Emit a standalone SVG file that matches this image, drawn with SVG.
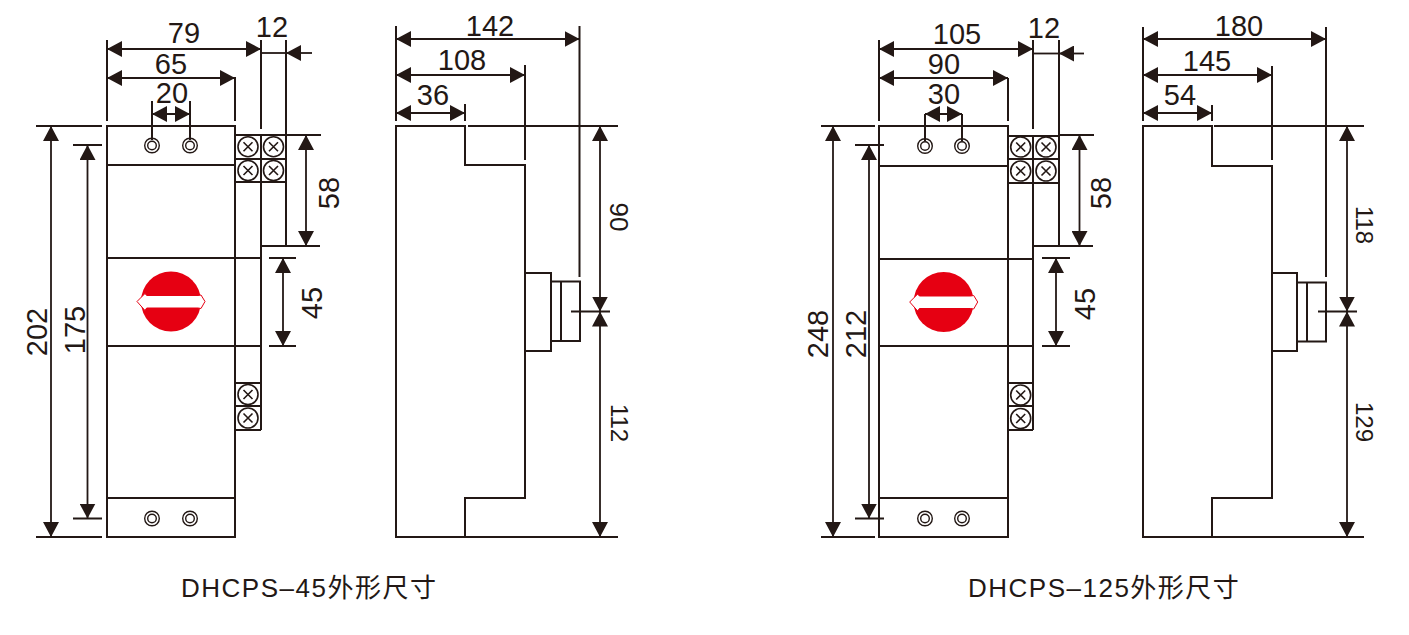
<svg xmlns="http://www.w3.org/2000/svg" xmlns:xlink="http://www.w3.org/1999/xlink" width="1409" height="635" viewBox="0 0 1409 635">
<style>
text{font-family:"Liberation Sans","Noto Sans CJK SC",sans-serif;fill:#231815;font-size:29px;text-anchor:middle}
.s{font-size:24px}
.n{font-size:26px}
.c{font-size:26px;letter-spacing:1.5px;text-anchor:start}
.b{fill:none;stroke:#231815;stroke-width:2}
.d{fill:none;stroke:#231815;stroke-width:1.8}
.a{marker-start:url(#ah);marker-end:url(#ah)}
.e{marker-end:url(#ah)}
.k{fill:#e60012}
.w{fill:#fff;stroke:#e60012;stroke-width:1}
</style>
<defs>
<marker id="ah" viewBox="0 -8 15 16" refX="15" refY="0" markerWidth="15" markerHeight="16" markerUnits="userSpaceOnUse" orient="auto-start-reverse"><path d="M0,-8L15,0L0,8z" fill="#231815"/></marker>
<g id="scr"><circle r="10" fill="#fff" stroke="#231815" stroke-width="1.6"/><path d="M-4.5,-4.5L4.5,4.5M-4.5,4.5L4.5,-4.5" stroke="#231815" stroke-width="1.6"/></g>
<g id="hole"><circle r="7.300" fill="#fff" stroke="#231815" stroke-width="1.400"/><circle r="4.300" fill="#fff" stroke="#231815" stroke-width="1.400"/></g>
<g id="knob"><circle r="30" class="k"/><path class="w" d="M-34,0L-26,-8L-24.300,-6L27,-6L30,-6.500L34,0L30,7L27,6.500L-24.300,6.500L-26,9z"/></g>
</defs>
<rect width="1409" height="635" fill="#fff"/>
<g id="front-45">
<path class="b" d="M107,126H235V537H107ZM107,165H235M107,258H261M107,346H261M107,498H235"/>
<path class="b" d="M235,135H286M235,159H286M235,182H286M261,135V430M286,135V182M235,383H261M235,406H261M235,430H261"/>
<use xlink:href="#hole" href="#hole" x="152" y="145.500"/><use xlink:href="#hole" href="#hole" x="190" y="145.500"/>
<use xlink:href="#hole" href="#hole" x="152" y="518.500"/><use xlink:href="#hole" href="#hole" x="190" y="518.500"/>
<use xlink:href="#scr" href="#scr" x="248" y="146.700"/><use xlink:href="#scr" href="#scr" x="273.500" y="146.700"/>
<use xlink:href="#scr" href="#scr" x="248" y="170.500"/><use xlink:href="#scr" href="#scr" x="273.500" y="170.500"/>
<use xlink:href="#scr" href="#scr" x="248" y="394.500"/><use xlink:href="#scr" href="#scr" x="248" y="418"/>
<use xlink:href="#knob" href="#knob" x="171" y="301.500"/>
</g>
<g id="side-45">
<path class="b" d="M396,126H465V165H525V498H465V537H396ZM525,273H551V351H525M551,281.500H580V341H551M561,281.500V341"/>
</g>
<g id="front-125">
<path class="b" d="M879,126H1008V537H879ZM879,166H1008M879,259H1033M879,346H1033M879,498H1008"/>
<path class="b" d="M1008,136H1059M1008,159H1059M1008,183H1059M1033,136V430M1059,136V183M1008,383H1033M1008,406H1033M1008,430H1033"/>
<use xlink:href="#hole" href="#hole" x="925" y="146"/><use xlink:href="#hole" href="#hole" x="962" y="146"/>
<use xlink:href="#hole" href="#hole" x="925" y="518.500"/><use xlink:href="#hole" href="#hole" x="962" y="518.500"/>
<use xlink:href="#scr" href="#scr" x="1020.700" y="147"/><use xlink:href="#scr" href="#scr" x="1046" y="147"/>
<use xlink:href="#scr" href="#scr" x="1020.700" y="171"/><use xlink:href="#scr" href="#scr" x="1046" y="171"/>
<use xlink:href="#scr" href="#scr" x="1020.700" y="395"/><use xlink:href="#scr" href="#scr" x="1020.700" y="418.500"/>
<use xlink:href="#knob" href="#knob" x="943.700" y="302"/>
</g>
<g id="side-125">
<path class="b" d="M1143,126H1212V166H1272V498H1212V537H1143ZM1272,273H1297V351H1272M1297,282.500H1326V341.500H1297M1307,282.500V341.500"/>
</g>
<g id="connectors">
<path class="b" d="M107,40V121M261,40V129M286,40V246M235,77V121M152,101V140M190,101V140M36,126H102M36,537H102M73,145H102M73,518.500H102M286,135H321M261,246H320M269,258H296M269,346H296"/>
<path class="d a" d="M107,49H261"/><path class="d a" d="M107,78H235"/><path class="d a" d="M152,114H190"/>
<path class="d" d="M261,53H286"/><path class="d e" d="M312,53H286"/>
<path class="d a" d="M51,126V537"/><path class="d a" d="M87.500,145V518.500"/><path class="d a" d="M306,135V246"/><path class="d a" d="M283,258V346"/>
<path class="b" d="M396,26V121M465,104V121M525,65V160M579.500,26V277M468,126H618M396,537H618M571,311.500H610"/>
<path class="d a" d="M396,39H579.500"/><path class="d a" d="M396,75H525"/><path class="d a" d="M396,113H465"/>
<path class="d a" d="M600,126V311.500"/><path class="d a" d="M600,537V311.500"/>
<path class="b" d="M879,40V121M1033,40V129M1059,40V246M1008,78V121M925,114V141M962,114V141M821,126H875M821,537H875M855,145H884M855,518.500H884M1059,135H1094M1033,246H1093M1042,258H1070M1042,346H1070"/>
<path class="d a" d="M879,49H1033"/><path class="d a" d="M879,78H1008"/><path class="d a" d="M925,114H962"/>
<path class="d" d="M1033,53.500H1059"/><path class="d e" d="M1084,53.500H1059"/>
<path class="d a" d="M833,126V537"/><path class="d a" d="M869,145V518.500"/><path class="d a" d="M1079.500,135V246"/><path class="d a" d="M1056,258V346"/>
<path class="b" d="M1143,27V121M1212,105V121M1272,66V160M1326,27V277M1214,126H1364M1143,537H1364M1318,311.500H1357"/>
<path class="d a" d="M1143,39H1326"/><path class="d a" d="M1143,75H1272"/><path class="d a" d="M1143,113H1212"/>
<path class="d a" d="M1347,126V311.500"/><path class="d a" d="M1347,537V311.500"/>
</g>
<g id="labels">
<text x="184" y="43">79</text><text x="171" y="74">65</text><text x="172" y="103">20</text><text x="272" y="37">12</text>
<text transform="translate(339,193) rotate(-90)">58</text><text transform="translate(322,303) rotate(-90)">45</text>
<text transform="translate(47,332) rotate(-90)">202</text><text transform="translate(85,330) rotate(-90)">175</text>
<text x="490" y="36">142</text><text x="462" y="70">108</text><text x="433" y="105">36</text>
<text class="n" transform="translate(610,217) rotate(90)">90</text><text class="s" transform="translate(611,423) rotate(90)">112</text>
<text x="957" y="44">105</text><text x="944" y="74">90</text><text x="944" y="104">30</text><text x="1044" y="38">12</text>
<text transform="translate(1111,193) rotate(-90)">58</text><text transform="translate(1095,304) rotate(-90)">45</text>
<text transform="translate(828,334) rotate(-90)">248</text><text transform="translate(866,334) rotate(-90)">212</text>
<text x="1239" y="36">180</text><text x="1207" y="71">145</text><text x="1180" y="105">54</text>
<text class="s" transform="translate(1356,225) rotate(90)">118</text><text class="s" transform="translate(1356,422) rotate(90)">129</text>
<text class="c" x="181" y="597">DHCPS–45外形尺寸</text>
<text class="c" x="968" y="597">DHCPS–125外形尺寸</text>
</g>
</svg>
